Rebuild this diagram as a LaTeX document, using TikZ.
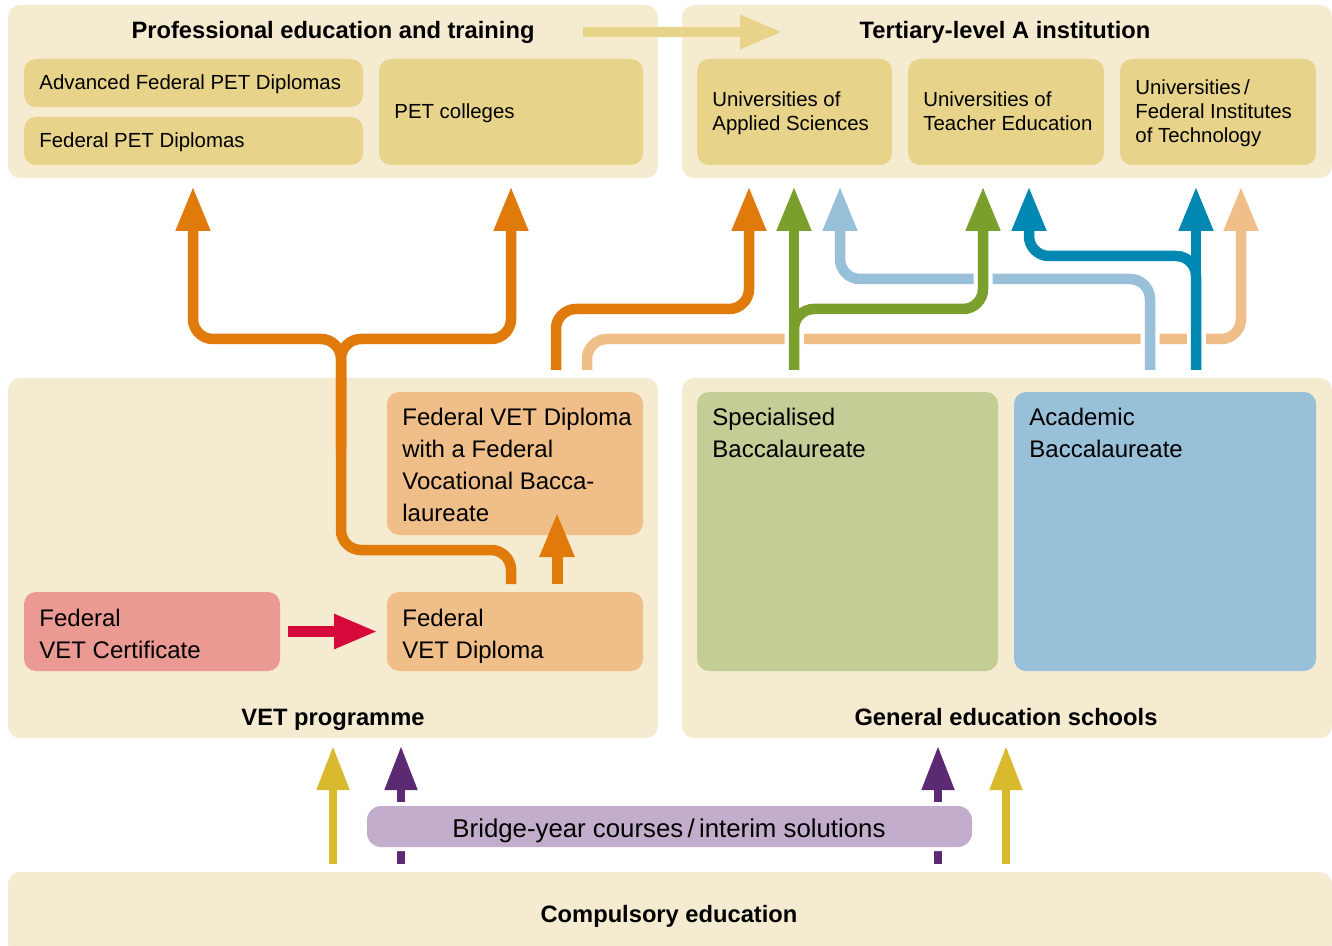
\documentclass[tikz,border=0pt]{standalone}
\usepackage{fontspec}
\setmainfont{Liberation Sans}
\usetikzlibrary{arrows.meta}
\definecolor{panelbg}{HTML}{F5EBD1}
\definecolor{sandc}{HTML}{E7D38A}
\definecolor{orangec}{HTML}{E07A0A}
\definecolor{peach}{HTML}{F0BE89}
\definecolor{pinkc}{HTML}{EA9A92}
\definecolor{redc}{HTML}{D6093B}
\definecolor{greenl}{HTML}{7A9F2C}
\definecolor{greenb}{HTML}{C3CD96}
\definecolor{lblue}{HTML}{99C0D9}
\definecolor{dblue}{HTML}{0087B2}
\definecolor{purplec}{HTML}{5C2A73}
\definecolor{lilac}{HTML}{C2AECC}
\definecolor{yellowc}{HTML}{D9B92E}
\newcommand\mybox[6]{\node[#2, anchor=north west, minimum width={(#5-#3)*0.5pt}, minimum height={(#6-#4)*0.5pt}] (#1) at (#3,#4) {};}
\begin{document}
\begin{tikzpicture}[x=0.5pt,y=-0.5pt,
  panel/.style={fill=panelbg, rounded corners=6pt, inner sep=0pt, outer sep=0pt},
  sandbox/.style={fill=sandc, rounded corners=6pt, inner sep=0pt, outer sep=0pt},
  colbox/.style={fill=#1, rounded corners=6pt, inner sep=0pt, outer sep=0pt},
  small/.style={font=\fontsize{10.2}{12}\selectfont, inner sep=0pt, anchor=base west},
  large/.style={font=\fontsize{12}{14}\selectfont, inner sep=0pt, anchor=base west},
  ttl/.style={font=\bfseries\fontsize{11.85}{14}\selectfont, inner sep=0pt, anchor=base},
  flow/.style={line width=5.25pt, rounded corners=10pt},
  gapline/.style={line width=9.5pt, white, rounded corners=10pt},
  bigtip/.style={-{Triangle[width=16pt,length=22.5pt]}},
  lowtip/.style={line width=4pt, -{Triangle[width=15.5pt,length=22pt]}}
]
\useasboundingbox (0,0) rectangle (1332,946);
% panels
\mybox{pet}{panel}{8}{5}{658}{178}
\mybox{ter}{panel}{682}{5}{1332}{178}
\mybox{vet}{panel}{8}{378}{658}{738}
\mybox{gen}{panel}{682}{378}{1332}{738}
\mybox{comp}{panel}{8}{872}{1332}{956}
% top boxes
\mybox{adv}{sandbox}{24}{59}{363}{107}
\mybox{fpd}{sandbox}{24}{117}{363}{165}
\mybox{petc}{sandbox}{379}{59}{643}{165}
\mybox{uas}{sandbox}{697}{59}{892}{165}
\mybox{ute}{sandbox}{908}{59}{1104}{165}
\mybox{eth}{sandbox}{1120}{59}{1316}{165}
% middle boxes
\mybox{fvb}{colbox=peach}{387}{392}{643}{535}
\mybox{fvd}{colbox=peach}{387}{592}{643}{671}
\mybox{cert}{colbox=pinkc}{24}{592}{280}{671}
\mybox{spec}{colbox=greenb}{697}{392}{998}{671}
\mybox{acad}{colbox=lblue}{1014}{392}{1316}{671}
% titles
\node[ttl] (petT) at (333,39) {Professional education and training};
\node[ttl] (terT) at (1005,39) {Tertiary-level A institution};
\node[ttl] (vetT) at (333,725) {VET programme};
\node[ttl] (genT) at (1006,725) {General education schools};
\node[ttl] (compT) at (669,922) {Compulsory education};
% small texts
\node[small] (advT) at (39,90) {Advanced Federal PET Diplomas};
\node[small] (fpdT) at (39,148) {Federal PET Diplomas};
\node[small] (petcT) at (394,119) {PET colleges};
\node[small] (uasA) at (712,107) {Universities of};
\node[small] (uasB) at (712,131) {Applied Sciences};
\node[small] (uteA) at (923,107) {Universities of};
\node[small] (uteB) at (923,131) {Teacher Education};
\node[small] (ethA) at (1135,95) {Universities\,/};
\node[small] (ethB) at (1135,119) {Federal Institutes};
\node[small] (ethC) at (1135,143) {of Technology};
% large texts
\node[large] (fvbA) at (402,425) {Federal VET Diploma};
\node[large] (fvbB) at (402,457) {with a Federal};
\node[large] (fvbC) at (402,489) {Vocational Bacca-};
\node[large] (fvbD) at (402,521) {laureate};
\node[large] (certA) at (39,626) {Federal};
\node[large] (certB) at (39,658) {VET Certificate};
\node[large] (fvdA) at (402,626) {Federal};
\node[large] (fvdB) at (402,658) {VET Diploma};
\node[large] (specA) at (712,425) {Specialised};
\node[large] (specB) at (712,457) {Baccalaureate};
\node[large] (acadA) at (1029,425) {Academic};
\node[large] (acadB) at (1029,457) {Baccalaureate};
% top horizontal arrow
\coordinate (ya) at (583,32);
\coordinate (yb) at (782,32);
\draw[sandc, line width=5pt, -{Triangle[width=16pt,length=21pt]}] (ya) -- (yb);
% routed connectors
\draw[flow, peach, bigtip] (587,370) -- (587,339) -- (1241,339) -- (1241,186);
\draw[gapline] (1150,370) -- (1150,279) -- (840,279) -- (840,231);
\draw[flow, lblue, bigtip] (1150,370) -- (1150,279) -- (840,279) -- (840,186);
\draw[gapline] (794,370) -- (794,231);
\draw[gapline] (794,370) -- (794,309) -- (983,309) -- (983,231);
\draw[flow, greenl, bigtip] (794,370) -- (794,186);
\draw[flow, greenl, bigtip] (794,370) -- (794,309) -- (983,309) -- (983,186);
\draw[flow, orangec, bigtip] (556,370) -- (556,309) -- (749,309) -- (749,186);
\draw[gapline] (1196,370) -- (1196,231);
\draw[flow, dblue, bigtip] (1196,370) -- (1196,186);
\draw[flow, dblue, bigtip] (1196,370) -- (1196,256) -- (1029,256) -- (1029,186);
% orange fork from VET diploma
\draw[flow, orangec, bigtip] (511,584) -- (511,550) -- (341,550) -- (341,339) -- (193,339) -- (193,186);
\draw[flow, orangec, bigtip] (341,450) -- (341,339) -- (511,339) -- (511,186);
\draw[line width=5.5pt, orangec, bigtip] (557,584) -- (557,512);
% red arrow
\draw[line width=5.5pt, redc, -{Triangle[width=16pt,length=22pt]}] ([xshift=4pt]cert.east) -- ([xshift=-4.5pt]fvd.west);
% bottom arrows
\draw[lowtip, yellowc] (333,864) -- (333,746);
\draw[lowtip, yellowc] (1006,864) -- (1006,746);
\draw[lowtip, purplec] (401,864) -- (401,746);
\draw[lowtip, purplec] (938,864) -- (938,746);
\mybox{bridgew}{colbox=white, rounded corners=9pt}{363}{802}{976}{851}
\mybox{bridge}{colbox=lilac, rounded corners=7pt}{367}{806}{972}{847}
\node[large, anchor=base, font=\fontsize{12.9}{15}\selectfont] (bridgeT) at (669,837) {Bridge-year courses\,/\,interim solutions};
\end{tikzpicture}
\end{document}
